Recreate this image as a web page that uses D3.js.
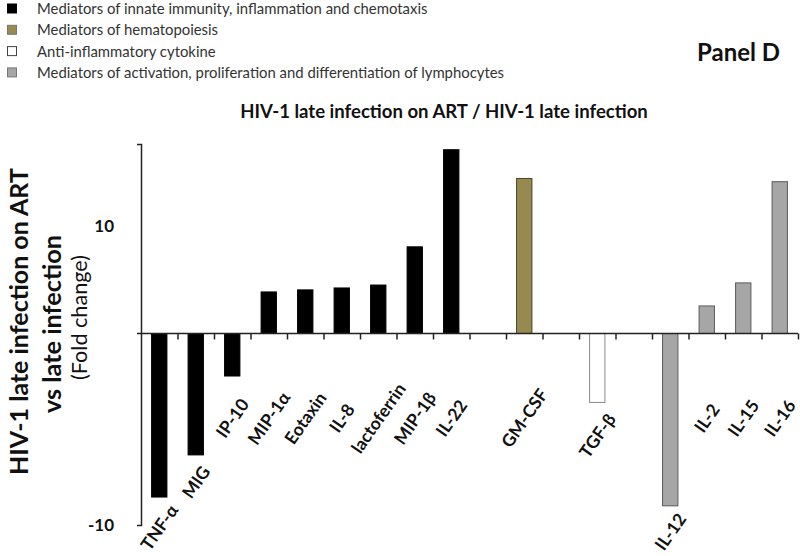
<!DOCTYPE html>
<html><head><meta charset="utf-8">
<script src="https://cdn.jsdelivr.net/npm/d3@7/dist/d3.min.js"></script>
<style>body{margin:0;background:#fff} svg{display:block;font-family:Lato,"Open Sans",sans-serif}</style>
</head><body><svg id="c" width="800" height="556"></svg>
<script>
// ---- data ----
const categories = ["TNF-α","MIG","IP-10","MIP-1α","Eotaxin","IL-8","lactoferrin","MIP-1β","IL-22","","GM-CSF","","TGF-β","","IL-12","IL-2","IL-15","IL-16"];
const values = [-8.54,-6.34,-2.22,3.86,4.05,4.23,4.5,8.05,17.07,null,14.4,null,-3.6,null,-9.0,2.56,4.7,14.1];
const groups = [0,0,0,0,0,0,0,0,0,null,1,null,2,null,3,3,3,3];
const legendLabels = ["Mediators of innate immunity, inflammation and chemotaxis","Mediators of hematopoiesis","Anti-inflammatory cytokine","Mediators of activation, proliferation and differentiation of lymphocytes"];
const groupFill = ["#000000","#968a50","#ffffff","#a6a6a6"];
const groupStroke = ["#000000","#4a4428","#8a8a8a","#5a5a5a"];
const yTicks = [-10, 10];
const yDomain = [-10, 0, 17.6];
const title = "HIV-1 late infection on ART / HIV-1 late infection";
const panelLabel = "Panel D";
const yTitle = ["HIV-1 late infection on ART","vs late infection","(Fold change)"];

// ---- layout ----
const svg = d3.select("#c");
const x0 = 141, x1 = 798;
const x = d3.scaleBand().domain(d3.range(categories.length)).range([x0, x1]).paddingInner(0.58).paddingOuter(0.29);
const y = d3.scaleLinear().domain(yDomain).range([525, 333.5, 144]);

function fit(sel, w){ const n = sel.node(); const fs = parseFloat(sel.attr("font-size")); const L = n.getComputedTextLength(); sel.attr("font-size", fs*w/L); }

// legend
const lg = svg.append("g");
legendLabels.forEach((t,i)=>{
  const cy = 8.5 + i*21.3;
  lg.append("rect").attr("x",7.5).attr("y",cy-4.5).attr("width",9).attr("height",9)
    .attr("fill",groupFill[i]).attr("stroke", i===0?"#000":(i===2?"#444":"#777")).attr("stroke-width",1);
  const tx = lg.append("text").attr("x",37).attr("y",cy+5.5).attr("font-size",14).attr("fill","#333").text(t);
  if(i===0) fit(tx,391);
});
const lfs = lg.select("text").attr("font-size");
lg.selectAll("text").attr("font-size", lfs);

// panel label
fit(svg.append("text").attr("x",697).attr("y",61).attr("font-size",22).attr("font-weight","bold").attr("fill","#111").text(panelLabel),83);
// title
fit(svg.append("text").attr("x",444).attr("y",118).attr("text-anchor","middle").attr("font-size",16).attr("font-weight","bold").attr("fill","#111").text(title),408);

// y title
const ytW = [307,178,125], ytX = [28,61,87], ytY=[321.5,324,317.5], ytB=["bold","bold","normal"];
yTitle.forEach((t,i)=>{
  const tt = svg.append("text").attr("transform",`translate(${ytX[i]},${ytY[i]}) rotate(-90)`)
    .attr("text-anchor","middle").attr("font-size",20).attr("font-weight",ytB[i]).attr("fill","#111").text(t);
  fit(tt, ytW[i]);
});

// bars
svg.append("g").selectAll("rect").data(values.map((v,i)=>({v,i})).filter(d=>d.v!==null)).join("rect")
  .attr("x",d=>x(d.i)).attr("width",x.bandwidth())
  .attr("y",d=>y(Math.max(0,d.v))).attr("height",d=>Math.abs(y(d.v)-y(0)))
  .attr("fill",d=>groupFill[groups[d.i]]).attr("stroke",d=>groupStroke[groups[d.i]]).attr("stroke-width",1);

// y axis
const ya = svg.append("g").attr("transform",`translate(${x0},0)`)
  .call(d3.axisLeft(y).tickValues(yTicks).tickSizeInner(0).tickSizeOuter(4).tickPadding(27).tickFormat(d => d < 0 ? "-" + (-d) : String(d)));
ya.select(".domain").attr("stroke","#222").attr("stroke-width",1.5);
ya.selectAll("text").attr("font-size",17).attr("font-weight","bold").attr("font-family","Lato").attr("fill","#111");

// x axis with ticks at slot boundaries
const xs = d3.scaleLinear().domain([0,categories.length]).range([x0,x1]);
const xa = svg.append("g").attr("transform",`translate(0,${y(0)})`)
  .call(d3.axisBottom(xs).tickValues(d3.range(1,categories.length+1)).tickSize(6).tickSizeOuter(0).tickFormat(""));
xa.select(".domain").attr("d",`M${x0-4},0H${x1}`).attr("stroke","#222").attr("stroke-width",1.5);
xa.selectAll(".tick line").attr("stroke","#222").attr("stroke-width",1.5);

// category labels
const lab = svg.append("g");
categories.forEach((c,i)=>{
  if(!c) return;
  const v = values[i];
  const cx = x(i)+x.bandwidth()/2;
  const t = lab.append("text").attr("text-anchor","middle").attr("dominant-baseline","central")
    .attr("font-size",17.5).attr("font-weight","bold").attr("fill","#111").text(c);
  const L = t.node().getComputedTextLength();
  let cy = 418;
  if(v<0) cy = Math.max(418, y(v) + 13 + L*0.41);
  t.attr("transform",`translate(${cx},${cy}) rotate(-55)`);
  const r = t.node().getBoundingClientRect();
  if(r.bottom > 554) { cy -= (r.bottom - 554); t.attr("transform",`translate(${cx},${cy}) rotate(-55)`); }
});
</script></body></html>
